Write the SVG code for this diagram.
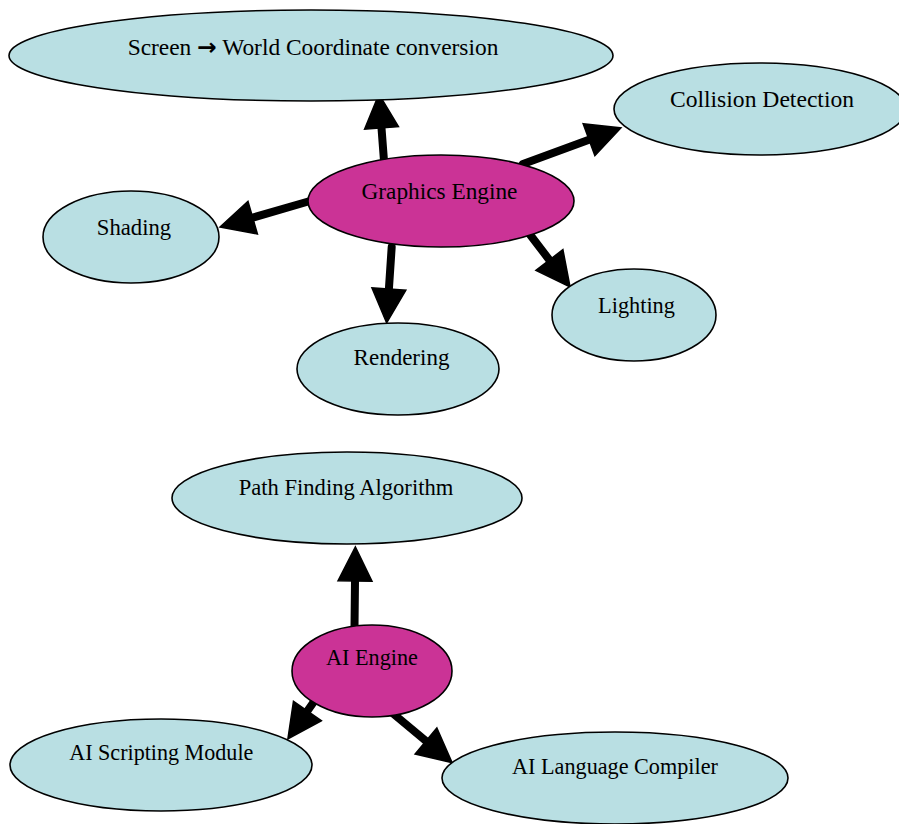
<svg xmlns="http://www.w3.org/2000/svg" width="899" height="824" viewBox="0 0 899 824">
<defs>
<style>
.n{fill:#b9dfe3;stroke:#000;stroke-width:1.6}
.h{fill:#cb3396;stroke:#000;stroke-width:1.6}
text{font-family:"Liberation Serif","Times New Roman",serif;font-size:22.5px;fill:#000;text-anchor:middle}
.ar{font-family:"Noto Sans","DejaVu Sans",sans-serif;font-weight:bold}
.e{stroke:#000;stroke-width:8;stroke-linecap:round;fill:none;marker-end:url(#ah)}
</style>
<marker id="ah" markerUnits="userSpaceOnUse" markerWidth="40" markerHeight="40" viewBox="-2 -19 40 38" refX="0" refY="0" orient="auto">
<path d="M0,-17 L34,0 L0,17 Z" fill="#000" stroke="#000" stroke-width="1.5"/>
</marker>
</defs>
<rect width="899" height="824" fill="#fff"/>
<g id="edges">
<path class="e" d="M384,161 L381.5,128"/>
<path class="e" d="M523,164 L589,139.7"/>
<path class="e" d="M310,201 L252.7,217.6"/>
<path class="e" d="M391.7,247 L388.9,289"/>
<path class="e" d="M528,232 L549.4,260"/>
<path class="e" d="M354.5,627 L355,581"/>
<path class="e" d="M313,703 L307.4,711"/>
<path class="e" d="M390,711 L426,741"/>
</g>
<g id="screen"><ellipse class="n" cx="311" cy="55.5" rx="302" ry="45.5"/><text x="313" y="55" style="font-size:23.4px">Screen <tspan class="ar">→</tspan> World Coordinate conversion</text></g>
<g id="collision"><ellipse class="n" cx="760" cy="109" rx="146" ry="46"/><text x="762" y="107" style="font-size:23.6px">Collision Detection</text></g>
<g id="graphics"><ellipse class="h" cx="441" cy="201" rx="133" ry="46"/><text x="439.5" y="199" style="font-size:23.3px">Graphics Engine</text></g>
<g id="shading"><ellipse class="n" cx="131" cy="237" rx="88" ry="46"/><text x="134" y="235" style="font-size:22.7px">Shading</text></g>
<g id="lighting"><ellipse class="n" cx="634" cy="315" rx="82" ry="46"/><text x="636.5" y="313" style="font-size:22.3px">Lighting</text></g>
<g id="rendering"><ellipse class="n" cx="398" cy="369" rx="101" ry="46"/><text x="401.5" y="365" style="font-size:23px">Rendering</text></g>
<g id="pathfinding"><ellipse class="n" cx="347" cy="498" rx="175" ry="46"/><text x="346" y="495" style="font-size:22.6px">Path Finding Algorithm</text></g>
<g id="aiengine"><ellipse class="h" cx="372" cy="671" rx="80" ry="46"/><text x="372" y="665" style="font-size:22.2px">AI Engine</text></g>
<g id="aiscripting"><ellipse class="n" cx="161" cy="765" rx="151" ry="46"/><text x="161.3" y="760" style="font-size:22.1px">AI Scripting Module</text></g>
<g id="ailanguage"><ellipse class="n" cx="615" cy="778" rx="173" ry="46"/><text x="615" y="774" style="font-size:22.2px">AI Language Compiler</text></g>
</svg>
